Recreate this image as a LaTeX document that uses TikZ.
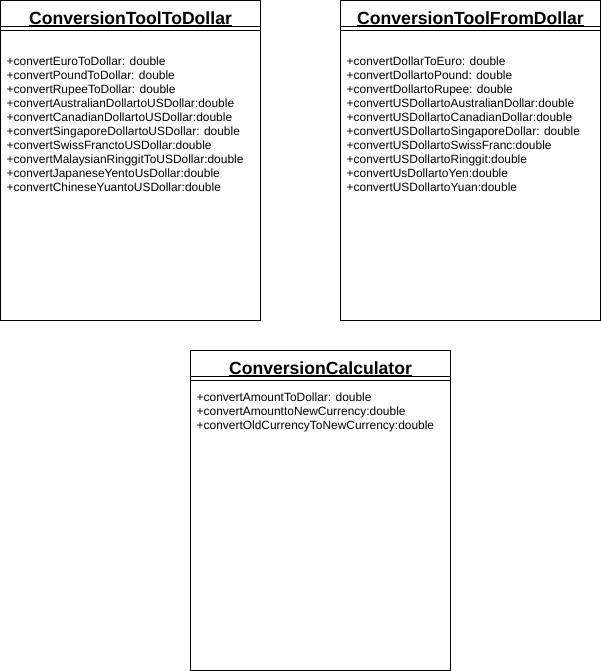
\documentclass[tikz,border=0pt]{standalone}
\usepackage{fontspec}
\setmainfont{Liberation Sans}
\tikzset{>=stealth}
\tikzset{
  classbox/.style={draw, line width=1pt},
  classname/.style={inner sep=0pt, anchor=base, font=\bfseries\fontsize{17.6}{20}\selectfont},
  method/.style={inner sep=0pt, anchor=base west, font=\fontsize{11.95}{14}\selectfont},
}

\begin{document}
\begin{tikzpicture}[x=1pt,y=-1pt]
  \useasboundingbox (0,0) rectangle (601,671);

  %% ConversionToolToDollar
  \begin{scope}[shift={(0.5,0.5)}]
    \draw[classbox] (0,0) rectangle (259.5,319.5);
    \draw[classbox] (0,26) -- (259.5,26);
    \draw[classbox] (0,30) -- (259.5,30);
    \node[classname] (tdname) at (130,24) {ConversionToolToDollar};
    \draw[line width=1pt] ([yshift=-1.4pt]tdname.base west) -- ([yshift=-1.4pt]tdname.base east);
    \foreach \m [count=\i] in {+convertEuroToDollar: double,
      +convertPoundToDollar: double,
      +convertRupeeToDollar: double,
      +convertAustralianDollartoUSDollar:double,
      +convertCanadianDollartoUSDollar:double,
      +convertSingaporeDollartoUSDollar: double,
      +convertSwissFranctoUSDollar:double,
      +convertMalaysianRinggitToUSDollar:double,
      +convertJapaneseYentoUsDollar:double,
      +convertChineseYuantoUSDollar:double}
      \node[method] (td\i) at (6,51+14*\i) {\m};
  \end{scope}

  %% ConversionToolFromDollar
  \begin{scope}[shift={(340.5,0.5)}]
    \draw[classbox] (0,0) rectangle (259.5,319.5);
    \draw[classbox] (0,26) -- (259.5,26);
    \draw[classbox] (0,30) -- (259.5,30);
    \node[classname] (fdname) at (130,24) {ConversionToolFromDollar};
    \draw[line width=1pt] ([yshift=-1.4pt]fdname.base west) -- ([yshift=-1.4pt]fdname.base east);
    \foreach \m [count=\i] in {+convertDollarToEuro: double,
      +convertDollartoPound: double,
      +convertDollartoRupee: double,
      +convertUSDollartoAustralianDollar:double,
      +convertUSDollartoCanadianDollar:double,
      +convertUSDollartoSingaporeDollar: double,
      +convertUSDollartoSwissFranc:double,
      +convertUSDollartoRinggit:double,
      +convertUsDollartoYen:double,
      +convertUSDollartoYuan:double}
      \node[method] (fd\i) at (6,51+14*\i) {\m};
  \end{scope}

  %% ConversionCalculator
  \begin{scope}[shift={(190.5,350.5)}]
    \draw[classbox] (0,0) rectangle (259.5,319.5);
    \draw[classbox] (0,26) -- (259.5,26);
    \draw[classbox] (0,30) -- (259.5,30);
    \node[classname] (ccname) at (130,24) {ConversionCalculator};
    \draw[line width=1pt] ([yshift=-1.4pt]ccname.base west) -- ([yshift=-1.4pt]ccname.base east);
    \foreach \m [count=\i] in {+convertAmountToDollar: double,
      +convertAmounttoNewCurrency:double,
      +convertOldCurrencyToNewCurrency:double}
      \node[method] (cc\i) at (6,37+14*\i) {\m};
  \end{scope}
\end{tikzpicture}
\end{document}
